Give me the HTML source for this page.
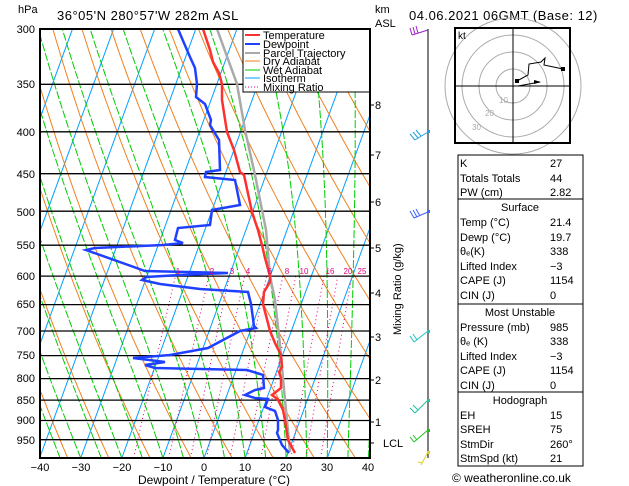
<!DOCTYPE html>
<html><head><meta charset="utf-8"><style>
body{margin:0;background:#fff;}
svg{display:block;font-family:"Liberation Sans",sans-serif;}
</style></head><body>
<svg id="s" width="629" height="486" xmlns="http://www.w3.org/2000/svg">
<defs><clipPath id="c"><rect x="40" y="29" width="330" height="429"/></clipPath></defs>
<rect width="629" height="486" fill="#fff"/>
<g id="bg" clip-path="url(#c)"></g>
<g id="fg" clip-path="url(#c)"></g>
<g font-size="11" fill="#000">
<text x="18" y="13">hPa</text>
<text x="57" y="20" font-size="13" letter-spacing="0.5">36°05'N  280°57'W  282m  ASL</text>
<text x="409" y="20" font-size="13" letter-spacing="0.5">04.06.2021  06GMT  (Base: 12)</text>
<text x="375" y="13">km</text><text x="375" y="27">ASL</text>
<g text-anchor="end">
<text x="35" y="33">300</text><text x="35" y="88">350</text><text x="35" y="136">400</text><text x="35" y="178">450</text>
<text x="35" y="216">500</text><text x="35" y="249">550</text><text x="35" y="280">600</text><text x="35" y="308">650</text>
<text x="35" y="335">700</text><text x="35" y="359">750</text><text x="35" y="382">800</text><text x="35" y="404">850</text>
<text x="35" y="424">900</text><text x="35" y="444">950</text></g>
<g text-anchor="middle">
<text x="40" y="471">−40</text><text x="81" y="471">−30</text><text x="122" y="471">−20</text><text x="163" y="471">−10</text>
<text x="204" y="471">0</text><text x="245" y="471">10</text><text x="286" y="471">20</text><text x="327" y="471">30</text><text x="368" y="471">40</text>
<text x="214" y="484" font-size="12">Dewpoint / Temperature (°C)</text></g>
<text x="375" y="109">8</text><text x="375" y="159">7</text><text x="375" y="206">6</text><text x="375" y="252">5</text>
<text x="375" y="297">4</text><text x="375" y="341">3</text><text x="375" y="384">2</text><text x="375" y="426">1</text>
<text x="383" y="447">LCL</text>
<text transform="translate(401,335) rotate(-90)" font-size="11">Mixing Ratio (g/kg)</text>
<g fill="#e0007a" font-size="8" text-anchor="middle">
<text x="178" y="274">1</text><text x="212" y="274">2</text><text x="232" y="274">3</text><text x="248" y="274">4</text>
<text x="270" y="274">6</text><text x="287" y="274">8</text><text x="304" y="274">10</text><text x="330" y="274">16</text>
<text x="348" y="274">20</text><text x="362" y="274">25</text></g>
</g>
<g stroke="#000" stroke-width="1">
<line x1="370" y1="105" x2="374" y2="105"/><line x1="370" y1="155" x2="374" y2="155"/><line x1="370" y1="202" x2="374" y2="202"/>
<line x1="370" y1="248" x2="374" y2="248"/><line x1="370" y1="293" x2="374" y2="293"/><line x1="370" y1="337" x2="374" y2="337"/>
<line x1="370" y1="380" x2="374" y2="380"/><line x1="370" y1="422" x2="374" y2="422"/><line x1="370" y1="443" x2="374" y2="443"/>
</g>
<!-- legend -->
<g font-size="11">
<rect x="243" y="29" width="127" height="63" fill="#fff" stroke="#000"/>
<line x1="245" y1="35" x2="260" y2="35" stroke="#ff3030" stroke-width="2"/><text x="263" y="39">Temperature</text>
<line x1="245" y1="44" x2="260" y2="44" stroke="#2040ff" stroke-width="2"/><text x="263" y="48">Dewpoint</text>
<line x1="245" y1="53" x2="260" y2="53" stroke="#aaa" stroke-width="2"/><text x="263" y="57">Parcel Trajectory</text>
<line x1="245" y1="61" x2="260" y2="61" stroke="#f08020"/><text x="263" y="65">Dry Adiabat</text>
<line x1="245" y1="70" x2="260" y2="70" stroke="#00cc00"/><text x="263" y="74">Wet Adiabat</text>
<line x1="245" y1="78" x2="260" y2="78" stroke="#00a0ff"/><text x="263" y="82">Isotherm</text>
<line x1="245" y1="87" x2="260" y2="87" stroke="#e0007a" stroke-dasharray="1,2"/><text x="263" y="91">Mixing Ratio</text>
</g>
<rect x="40" y="29" width="330" height="429" fill="none" stroke="#000" stroke-width="2"/>
<!-- wind column -->
<line x1="428" y1="29" x2="428" y2="458" stroke="#000"/>
<g stroke-width="1" fill="none">
<path d="M428,30 L412,35 M412,35 L410,28 M415,34 L413,27 M418,33 L416,26" stroke="#a020d0"/>
<path d="M428,132 L415,140 M415,140 L410,134 M418,138 L413,132 M421,136 L416,130" stroke="#20a0e0"/>
<path d="M428,212 L414,218 M414,218 L410,211 M417,217 L413,210 M420,216 L416,209" stroke="#4060ff"/>
<path d="M428,331 L414,342 M414,342 L410,336 M417,340 L413,334" stroke="#20c0c0"/>
<path d="M428,400 L415,413 M415,413 L410,408 M418,410 L413,405" stroke="#20c0a0"/>
<path d="M428,430 L414,442 M414,442 L410,437 M417,440 L413,435" stroke="#20c020"/>
<path d="M428,452 L421,465 M422,463 L418,462" stroke="#e0d020"/>
</g>
<g fill="#20a0e0"><rect x="427" y="130" width="3" height="3"/><rect x="427" y="210" width="3" height="3" fill="#4060ff"/><rect x="427" y="330" width="3" height="3" fill="#20c0c0"/><rect x="427" y="399" width="3" height="3" fill="#20c0a0"/><rect x="427" y="429" width="3" height="3" fill="#20c020"/><rect x="427" y="451" width="3" height="3" fill="#e0d020"/></g>
<!-- hodograph -->
<g>
<rect x="455" y="28" width="115" height="115" fill="#fff" stroke="#000" stroke-width="2"/>
<g fill="none" stroke="#aaa"><circle cx="513" cy="86" r="17"/><circle cx="513" cy="86" r="34"/><circle cx="513" cy="86" r="51"/><circle cx="513" cy="86" r="68"/></g>
<rect x="455" y="28" width="115" height="115" fill="none" stroke="#000" stroke-width="2"/>
<line x1="513" y1="29" x2="513" y2="142" stroke="#000"/><line x1="456" y1="86" x2="569" y2="86" stroke="#000"/>
<text x="458" y="39" font-size="10">kt</text>
<g fill="#aaa" font-size="8"><text x="499" y="103">10</text><text x="485" y="116">20</text><text x="472" y="130">30</text></g>
<path d="M517,81 L528,75 L529,64 L541,62 L545,58 L544,65 L563,69" stroke="#000" fill="none"/>
<path d="M518,86 L540,82" stroke="#000" fill="none"/>
<rect x="515" y="79" width="4" height="4"/><rect x="561" y="67" width="4" height="4"/><path d="M534,80 L541,82 L534,84Z"/>
</g>
<!-- table -->
<g font-size="11" fill="#000">
<rect x="458" y="155" width="125" height="311" fill="none" stroke="#000"/>
<line x1="458" y1="199" x2="583" y2="199" stroke="#000"/><line x1="458" y1="304" x2="583" y2="304" stroke="#000"/><line x1="458" y1="392" x2="583" y2="392" stroke="#000"/>
<text x="460" y="167">K</text><text x="550" y="167">27</text>
<text x="460" y="182">Totals Totals</text><text x="550" y="182">44</text>
<text x="460" y="196">PW (cm)</text><text x="550" y="196">2.82</text>
<text x="520" y="211" text-anchor="middle">Surface</text>
<text x="460" y="226">Temp (°C)</text><text x="550" y="226">21.4</text>
<text x="460" y="241">Dewp (°C)</text><text x="550" y="241">19.7</text>
<text x="460" y="255">θₑ(K)</text><text x="550" y="255">338</text>
<text x="460" y="270">Lifted Index</text><text x="550" y="270">−3</text>
<text x="460" y="284">CAPE (J)</text><text x="550" y="284">1154</text>
<text x="460" y="299">CIN (J)</text><text x="550" y="299">0</text>
<text x="520" y="316" text-anchor="middle">Most Unstable</text>
<text x="460" y="331">Pressure (mb)</text><text x="550" y="331">985</text>
<text x="460" y="345">θₑ (K)</text><text x="550" y="345">338</text>
<text x="460" y="360">Lifted Index</text><text x="550" y="360">−3</text>
<text x="460" y="374">CAPE (J)</text><text x="550" y="374">1154</text>
<text x="460" y="389">CIN (J)</text><text x="550" y="389">0</text>
<text x="520" y="404" text-anchor="middle">Hodograph</text>
<text x="460" y="419">EH</text><text x="550" y="419">15</text>
<text x="460" y="433">SREH</text><text x="550" y="433">75</text>
<text x="460" y="448">StmDir</text><text x="550" y="448">260°</text>
<text x="460" y="462">StmSpd (kt)</text><text x="550" y="462">21</text>
<text x="452" y="482" font-size="12">© weatheronline.co.uk</text>
</g>
<script>
(function(){
var NS="http://www.w3.org/2000/svg";
function Y(p){return 458-356*Math.log(1000/p);}
function X(t,p){return 204+4.11*t+0.364*(458-Y(p));}
var bg=document.getElementById('bg'),fg=document.getElementById('fg');
function pl(g,pts,col,w,dash){var e=document.createElementNS(NS,'polyline');e.setAttribute('points',pts.map(function(a){return a[0].toFixed(1)+','+a[1].toFixed(1)}).join(' '));e.setAttribute('fill','none');e.setAttribute('stroke',col);e.setAttribute('stroke-width',w);if(dash)e.setAttribute('stroke-dasharray',dash);g.appendChild(e);}
var i,p,pts;
// isotherms
for(var t=-120;t<=40;t+=10){pl(bg,[[X(t,1000),Y(1000)],[X(t,280),Y(280)]],'#00a0ff',1);}
// dry adiabats
for(var th=230;th<=500;th+=10){pts=[];for(p=1000;p>=290;p-=10){var T=th*Math.pow(p/1000,0.286)-273.15;pts.push([X(T,p),Y(p)]);}pl(bg,pts,'#f08020',1);}
// wet adiabats
function es(tc){return 6.112*Math.exp(17.67*tc/(tc+243.5));}
for(var t0=-40;t0<=45;t0+=5){pts=[];var T=t0+273.15;for(p=1000;p>=290;p-=5){pts.push([X(T-273.15,p),Y(p)]);var e=es(T-273.15),rs=0.622*e/(p-e);var d=(287*T+2.5e6*rs)/(1004+2.5e6*2.5e6*rs*0.622/(287*T*T));T-=d*Math.log(p/(p-5));}pl(bg,pts,'#00cc00',1,'8,2');}
// mixing ratio
[1,2,3,4,6,8,10,16,20,25].forEach(function(w){w/=1000;pts=[];for(p=1000;p>=600;p-=10){var e=w*p/(0.622+w),l=Math.log(e/6.112),td=243.5*l/(17.67-l);pts.push([X(td,p),Y(p)]);}pl(bg,pts,'#e0007a',1,'1,3');});
// isobars
[350,400,450,500,550,600,650,700,750,800,850,900,950].forEach(function(p){pl(bg,[[40,Y(p)],[370,Y(p)]],'#000',1.3);});
// parcel
pl(fg,[[290,452],[285,400],[280,345],[275,300],[270,276],[266,230],[255,175],[245,130],[237,84],[217,29]],'#aaa',2.5);
// temperature
pl(fg,[[295,453],[288,440],[285,420],[283,410],[278,400],[276,398],[272,395],[281,388],[281,378],[279,372],[282,367],[281,355],[275,343],[270,331],[263,304],[264,292],[270,282],[270,276],[265,258],[262,245],[258,230],[252,212],[244,175],[240,172],[234,150],[227,132],[222,100],[222,84],[219,73],[213,62],[210,50],[203,29]],'#ff3030',2.5);
// dewpoint
pl(fg,[[289,453],[282,445],[277,433],[278,430],[278,420],[275,411],[265,407],[268,399],[255,398],[245,395],[255,390],[264,388],[263,375],[260,374],[247,370],[155,368],[145,365],[165,362],[133,358],[170,355],[208,348],[240,331],[256,328],[254,326],[251,304],[248,292],[200,289],[160,284],[142,280],[146,277],[180,275],[228,273],[145,271],[86,250],[95,248],[163,245],[183,243],[175,240],[178,228],[210,225],[212,210],[240,205],[235,180],[205,177],[206,172],[220,170],[219,140],[210,125],[211,120],[205,104],[196,97],[197,84],[195,68],[190,57],[178,29]],'#2040ff',2.5);
})();
</script>
</svg>
</body></html>
